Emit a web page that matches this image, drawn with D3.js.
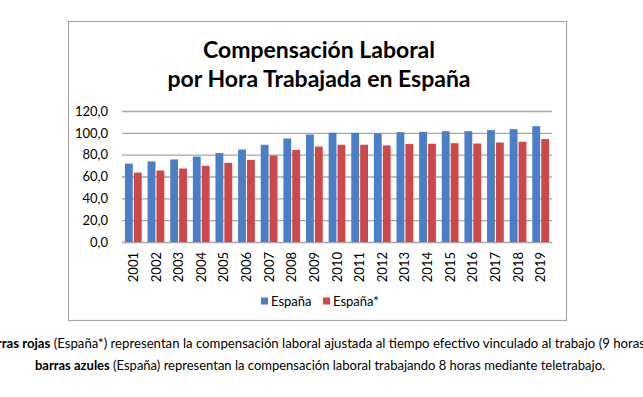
<!DOCTYPE html>
<html>
<head>
<meta charset="utf-8">
<script src="https://cdn.jsdelivr.net/npm/d3@7"></script>
<style>
  body { margin: 0; background: #fff; }
  svg { display: block; font-family: Lato, "Liberation Sans", sans-serif; }
</style>
</head>
<body>
<div class="chart"></div>
<script>
// data
var years = ["2001", "2002", "2003", "2004", "2005", "2006", "2007", "2008", "2009", "2010",
             "2011", "2012", "2013", "2014", "2015", "2016", "2017", "2018", "2019"];
var espana = [71.8, 73.8, 75.6, 78.3, 81.5, 84.7, 89.0, 94.8, 98.4, 100.0,
              100.0, 99.5, 100.6, 100.9, 101.5, 101.5, 102.5, 103.4, 106.1];
var espanaAst = [63.6, 65.5, 67.3, 69.8, 72.5, 75.2, 79.2, 84.4, 87.4, 89.1,
                 89.1, 88.5, 89.7, 90.0, 90.5, 90.2, 91.1, 91.8, 94.3];
var series = ["España", "España*"];
var yTicks = [0, 20, 40, 60, 80, 100, 120];
var colors = ["#4a7ec8", "#d0474a"];

var W = 643, H = 397;
var margin = {top: 111, left: 122, right: 91, bottom: 155};
var width = W - margin.left - margin.right,
    height = H - margin.top - margin.bottom;

var svg = d3.select(".chart").append("svg")
    .attr("width", W)
    .attr("height", H);

// chart frame
svg.append("rect")
    .attr("x", 68.5).attr("y", 21.5)
    .attr("width", 498).attr("height", 299)
    .attr("fill", "#fff")
    .attr("stroke", "#a9a9a9")
    .attr("stroke-width", 1.2);

svg.append("text")
    .attr("x", 319).attr("y", 58)
    .attr("text-anchor", "middle")
    .style("font-size", "23px").style("font-weight", "bold")
    .text("Compensación Laboral");
svg.append("text")
    .attr("x", 319).attr("y", 87)
    .attr("text-anchor", "middle")
    .style("font-size", "23px").style("font-weight", "bold")
    .text("por Hora Trabajada en España");

var g = svg.append("g")
    .attr("transform", "translate(" + margin.left + "," + margin.top + ")");

var x0 = d3.scaleBand()
    .domain(years)
    .range([0, width])
    .paddingInner(0.26)
    .paddingOuter(0.13);
var x1 = d3.scaleBand()
    .domain(series)
    .range([0, x0.bandwidth()])
    .paddingInner(0.12);
var y = d3.scaleLinear()
    .domain([0, 120])
    .range([height, 0]);

var fmt = function(d) { return d3.format(".1f")(d).replace(".", ","); };

// gridlines + labels
var yAxis = g.append("g")
    .call(d3.axisLeft(y).tickValues(yTicks).tickSize(-width).tickFormat(fmt).tickPadding(14));
yAxis.select(".domain").remove();
yAxis.selectAll(".tick line").attr("stroke", "#a6a6a6").attr("stroke-width", 1.3);
yAxis.selectAll(".tick text").style("font-size", "13px").style("font-family", "Lato").attr("fill", "#000");

var rows = years.map(function(yr, i) {
  return {year: yr, vals: [{s: series[0], v: espana[i]}, {s: series[1], v: espanaAst[i]}]};
});

var grp = g.selectAll(".grp")
    .data(rows)
  .enter().append("g")
    .attr("transform", function(d) { return "translate(" + x0(d.year) + ",0)"; });

grp.selectAll("rect")
    .data(function(d) { return d.vals; })
  .enter().append("rect")
    .attr("x", function(d) { return x1(d.s); })
    .attr("width", x1.bandwidth())
    .attr("y", function(d) { return y(d.v); })
    .attr("height", function(d) { return height - y(d.v); })
    .attr("fill", function(d, i) { return colors[i]; });

// x labels, rotated
var xAxis = g.append("g")
    .attr("transform", "translate(0," + height + ")")
    .call(d3.axisBottom(x0).tickSize(0));
xAxis.select(".domain").remove();
xAxis.selectAll(".tick text")
    .attr("transform", "rotate(-90)")
    .attr("text-anchor", "end")
    .attr("x", -10).attr("y", 0).attr("dy", "0.35em")
    .style("font-size", "13px").style("font-family", "Lato").attr("fill", "#000");

// legend
var leg = svg.append("g").attr("transform", "translate(261,301)");
var legX = [0, 62];
series.forEach(function(s, i) {
  leg.append("rect").attr("x", legX[i]).attr("y", -3.5).attr("width", 7).attr("height", 7).attr("fill", colors[i]);
  leg.append("text").attr("x", legX[i] + 10).attr("y", 0).attr("dy", "0.35em")
    .style("font-size", "13px").text(s);
});

// caption under the chart (cropped at both sides, as in the source image)
var cap1 = svg.append("text").attr("x", 645).attr("y", 348).attr("text-anchor", "end").style("font-size", "13.2px");
cap1.append("tspan").style("font-weight", "bold").text("Las barras rojas");
cap1.append("tspan").text(" (España*) representan la compensación laboral ajustada al tiempo efectivo vinculado al trabajo (9 horas");
var cap2 = svg.append("text").attr("x", 320).attr("y", 370).attr("text-anchor", "middle").style("font-size", "13px");
cap2.append("tspan").style("font-weight", "bold").text("barras azules");
cap2.append("tspan").text(" (España) representan la compensación laboral trabajando 8 horas mediante teletrabajo.");
</script>
</body>
</html>
